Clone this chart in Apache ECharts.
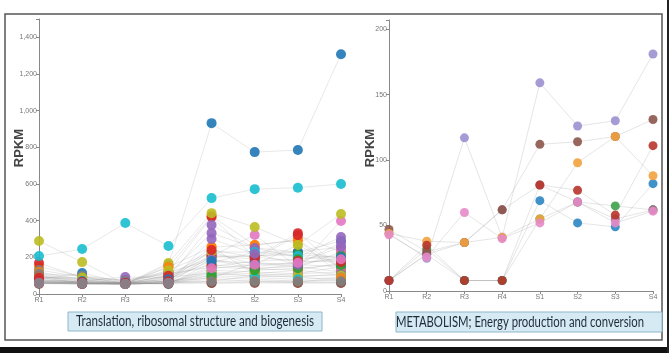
<!DOCTYPE html>
<html>
<head>
<meta charset="utf-8">
<script src="https://cdn.jsdelivr.net/npm/echarts@6/dist/echarts.min.js"></script>
<style>
  html, body { margin: 0; padding: 0; background: #fff; }
  #main { width: 669px; height: 353px; }
</style>
</head>
<body>
<div id="main"></div>
<script>
var myChart = echarts.init(document.getElementById('main'));

var categories = ['R1', 'R2', 'R3', 'R4', 'S1', 'S2', 'S3', 'S4'];
var leftTitle = 'Translation, ribosomal structure and biogenesis';
var rightTitle = 'METABOLISM; Energy production and conversion';
var leftTicks = [0, 200, 400, 600, 800, 1000, 1200, 1400];
var rightTicks = [0, 50, 100, 150, 200];

// d3 category10
var palette = ['#1f77b4', '#ff7f0e', '#2ca02c', '#d62728', '#9467bd',
               '#8c564b', '#e377c2', '#7f7f7f', '#bcbd22', '#17becf'];

// left panel: translation genes (RPKM)
var leftData = [
	[90, 60, 55, 160, 932, 774, 785, 1308],
	[150, 95, 60, 147, 425, 267, 294, 104],
	[110, 80, 60, 100, 207, 207, 229, 196],
	[169, 90, 60, 120, 420, 200, 332, 140],
	[100, 70, 93, 90, 376, 251, 229, 256],
	[104, 76, 60, 93, 114, 98, 93, 76],
	[60, 60, 60, 60, 207, 322, 147, 398],
	[131, 93, 76, 120, 185, 136, 131, 169],
	[289, 174, 55, 169, 441, 365, 267, 436],
	[207, 245, 387, 262, 523, 572, 580, 600],
	[80, 114, 60, 100, 229, 229, 229, 289],
	[120, 80, 55, 147, 256, 267, 294, 142],
	[95, 70, 60, 80, 200, 207, 215, 196],
	[100, 60, 55, 90, 210, 190, 320, 230],
	[90, 80, 76, 110, 332, 251, 200, 311],
	[70, 60, 55, 70, 60, 60, 60, 60],
	[75, 65, 60, 70, 87, 169, 147, 229],
	[110, 100, 70, 110, 147, 136, 160, 150],
	[90, 90, 60, 130, 229, 160, 267, 142],
	[60, 70, 60, 55, 170, 229, 207, 180],
	[60, 55, 55, 60, 130, 120, 110, 150],
	[80, 60, 60, 80, 256, 110, 130, 104],
	[70, 60, 55, 60, 150, 180, 190, 210],
	[90, 60, 60, 100, 160, 140, 150, 120],
	[65, 60, 60, 65, 190, 150, 170, 256],
	[60, 55, 55, 60, 90, 80, 70, 76],
	[65, 60, 55, 60, 70, 100, 110, 120],
	[70, 65, 60, 70, 110, 100, 93, 110],
	[60, 55, 55, 60, 120, 110, 100, 100],
	[70, 60, 55, 70, 100, 90, 80, 90],
	[75, 70, 60, 80, 180, 170, 160, 200],
	[65, 60, 55, 60, 80, 70, 65, 90],
	[60, 60, 55, 60, 100, 130, 140, 160],
	[80, 65, 60, 70, 240, 200, 180, 175],
	[60, 55, 55, 60, 300, 220, 160, 280],
	[55, 55, 55, 55, 60, 65, 62, 62],
	[60, 58, 55, 60, 140, 160, 170, 190],
	[60, 58, 55, 60, 70, 70, 70, 70]
];

// right panel: energy metabolism genes (RPKM)
var rightData = [
	[8, 28, 8, 8, 69, 52, 49, 82],
	[8, 32, 8, 8, 55, 68, 65, 62],
	[8, 28, 37, 62, 81, 68, 55, 62],
	[44, 25, 117, 41, 159, 126, 130, 181],
	[47, 30, 37, 62, 112, 114, 118, 131],
	[44, 38, 37, 41, 55, 98, 118, 88],
	[43, 26, 60, 40, 52, 68, 52, 61],
	[8, 35, 8, 8, 81, 77, 58, 111]
];
var rightColors = ['#2b86c2', '#3ea24a', '#9a6a86', '#9c90d0', '#8c564b', '#f2a23e', '#e68bc8', '#b8352c'];

function fmt(v) {
	return v.toString().replace(/\B(?=(\d{3})+(?!\d))/g, ',');
}

var series = [];
leftData.forEach(function(d, i) {
	series.push({
		type: 'line', xAxisIndex: 0, yAxisIndex: 0, data: d,
		color: palette[i % 10],
		symbol: 'circle', symbolSize: 10,
		lineStyle: { color: 'rgba(150,150,150,0.22)', width: 1 },
		itemStyle: { opacity: 0.9 },
		emphasis: { disabled: true }
	});
});
rightData.forEach(function(d, i) {
	series.push({
		type: 'line', xAxisIndex: 1, yAxisIndex: 1, data: d,
		color: rightColors[i],
		symbol: 'circle', symbolSize: 9,
		lineStyle: { color: 'rgba(150,150,150,0.25)', width: 1 },
		itemStyle: { opacity: 0.9 },
		emphasis: { disabled: true }
	});
});

function xAx(idx) {
	return {
		type: 'category', gridIndex: idx, data: categories, boundaryGap: false,
		axisLine: { lineStyle: { color: '#888', width: 1 } },
		axisTick: { show: true, length: 3, lineStyle: { color: '#888' } },
		axisLabel: { color: '#777', fontSize: 7, margin: 3, fontFamily: 'Liberation Sans' },
		splitLine: { show: false }
	};
}
function yAx(idx, max, interval, ticks) {
	return {
		type: 'value', gridIndex: idx, min: 0, max: max, interval: interval,
		axisLine: { show: true, lineStyle: { color: '#888', width: 1 } },
		axisTick: { show: true, length: 3, lineStyle: { color: '#888' } },
		axisLabel: {
			color: '#777', fontSize: 7, margin: 2, fontFamily: 'Liberation Sans',
			formatter: function(v) { return ticks.indexOf(v) >= 0 ? fmt(v) : ''; }
		},
		splitLine: { show: false }
	};
}

var titleFont = '14.5px Lato';

var option = {
	backgroundColor: '#fff',
	animation: false,
	grid: [
		{ left: 39, right: 328, top: 19, bottom: 59 },
		{ left: 389, right: 16, top: 20, bottom: 62 }
	],
	xAxis: [xAx(0), xAx(1)],
	yAxis: [yAx(0, 1500, 200, leftTicks), yAx(1, 207, 50, rightTicks)],
	series: series,
	graphic: [
		{ type: 'rect', shape: { x: 5, y: 14, width: 657, height: 326 },
		  style: { fill: 'none', stroke: '#555', lineWidth: 1.5 }, z: 10 },
		{ type: 'rect', shape: { x: 0, y: 347, width: 669, height: 6 },
		  style: { fill: '#111' }, z: 10 },
		{ type: 'rect', shape: { x: 667, y: 0, width: 2, height: 353 },
		  style: { fill: '#222' }, z: 10 },
		// y axis names
		{ type: 'text', x: 19, y: 148, rotation: Math.PI / 2, z: 11,
		  style: { text: 'RPKM', fill: '#444', font: 'bold 13px "Liberation Sans"', align: 'center', verticalAlign: 'middle' } },
		{ type: 'text', x: 370, y: 148, rotation: Math.PI / 2, z: 11,
		  style: { text: 'RPKM', fill: '#444', font: 'bold 13px "Liberation Sans"', align: 'center', verticalAlign: 'middle' } },
		// panel captions
		{ type: 'rect', shape: { x: 68, y: 312, width: 254, height: 19 },
		  style: { fill: '#d6eaf4', stroke: '#8fb6c8', lineWidth: 1 }, z: 10 },
		{ type: 'text', x: 195, y: 321.5, scaleX: 0.8, z: 11,
		  style: { text: leftTitle, fill: '#1e2a38', font: titleFont, align: 'center', verticalAlign: 'middle' } },
		{ type: 'rect', shape: { x: 396, y: 312, width: 266, height: 20 },
		  style: { fill: '#d6eaf4', stroke: '#8fb6c8', lineWidth: 1 }, z: 10 },
		{ type: 'text', x: 520, y: 322, scaleX: 0.78, z: 11,
		  style: { text: rightTitle, fill: '#1e2a38', font: titleFont, align: 'center', verticalAlign: 'middle' } }
	]
};

myChart.setOption(option);
</script>
</body>
</html>
